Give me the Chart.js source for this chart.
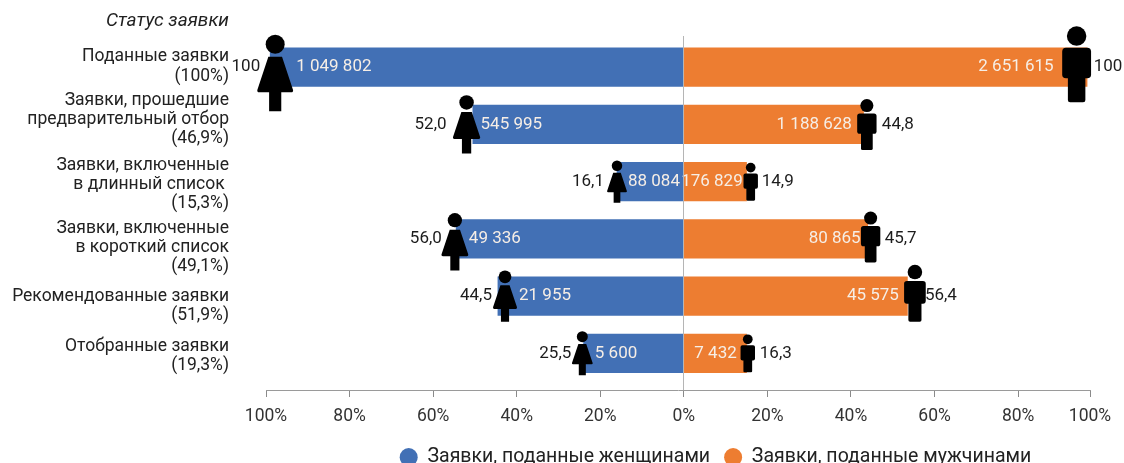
<!DOCTYPE html>
<html lang="ru">
<head>
<meta charset="utf-8">
<title>Статус заявки</title>
<script src="https://cdn.jsdelivr.net/npm/chart.js@4"></script>
<style>
    html, body { margin: 0; padding: 0; background: #fff; }
    #wrap { width: 1124px; height: 463px; }
</style>
</head>
<body>
<div id="wrap"><canvas id="grafico"></canvas></div>
<script>
const categories = [
    ["Поданные заявки", "(100%)"],
    ["Заявки, прошедшие", "предварительный отбор", "(46,9%)"],
    ["Заявки, включенные", "в длинный список ", "(15,3%)"],
    ["Заявки, включенные", "в короткий список", "(49,1%)"],
    ["Рекомендованные заявки", "(51,9%)"],
    ["Отобранные заявки", "(19,3%)"],
];
// bar lengths
const barsWomen = [99, 50.5, 16, 54.5, 44.5, 24];
const barsMen = [96.5, 43, 15, 44, 53.5, 15];
// printed numbers
const countsWomen = ["1 049 802", "545 995", "88 084", "49 336", "21 955", "5 600"];
const countsMen = ["2 651 615", "1 188 628", "176 829", "80 865", "45 575", "7 432"];
const pctWomen = ["100", "52,0", "16,1", "56,0", "44,5", "25,5"];
const pctMen = ["100", "44,8", "14,9", "45,7", "56,4", "16,3"];
// where the little figures stand on the axis
const figureWomen = [97.8, 52, 16, 54.8, 42.8, 24.3];
const figureMen = [94, 43.8, 16, 44.7, 55.3, 15.3];
const xTickValues = [-100, -80, -60, -40, -20, 0, 20, 40, 60, 80, 97.2];
const xTickLabels = ["100%", "80%", "60%", "40%", "20%", "0%", "20%", "40%", "60%", "80%", "100%"];
const legendLabels = ["Заявки, поданные женщинами", "Заявки, поданные мужчинами"];

const BLUE = "#4270b5";
const ORANGE = "#ed7d31";
const FONT = "Roboto";

// figure drawing settings per row
const heightWomen = [76, 58, 42, 57, 51, 44];
const heightMen = [76, 51, 38, 51, 57, 38];
const shiftWomen = [6, 0, 0, 3, 0, 0];
const shiftMen = [-3, 0, 0, -2, -3, 0];
const countGapWomen = [21, 14, 11, 14, 14, 12.5];
const countGapMen = [23, 15, 8, 10, 16, 11];
const pctGapWomen = [15, 20, 13, 13, 13, 11];
const pctGapMen = [17, 15, 11, 14, 10, 12];
const labelRows = [-0.01, 0.92, 2.05, 3.15, 4.17, 5.05];

function mulher(ctx, x, top, h) {
    ctx.beginPath();
    ctx.arc(x, top + 0.12 * h, 0.125 * h, 0, Math.PI * 2);
    ctx.fill();
    ctx.beginPath();
    ctx.moveTo(x - 0.09 * h, top + 0.285 * h);
    ctx.lineTo(x + 0.09 * h, top + 0.285 * h);
    ctx.lineTo(x + 0.235 * h, top + 0.72 * h);
    ctx.quadraticCurveTo(x + 0.24 * h, top + 0.75 * h, x + 0.21 * h, top + 0.75 * h);
    ctx.lineTo(x + 0.08 * h, top + 0.75 * h);
    ctx.lineTo(x + 0.08 * h, top + h);
    ctx.lineTo(x - 0.08 * h, top + h);
    ctx.lineTo(x - 0.08 * h, top + 0.75 * h);
    ctx.lineTo(x - 0.21 * h, top + 0.75 * h);
    ctx.quadraticCurveTo(x - 0.24 * h, top + 0.75 * h, x - 0.235 * h, top + 0.72 * h);
    ctx.closePath();
    ctx.fill();
}

function homem(ctx, x, top, h) {
    ctx.beginPath();
    ctx.arc(x, top + 0.13 * h, 0.128 * h, 0, Math.PI * 2);
    ctx.fill();
    ctx.beginPath();
    ctx.roundRect(x - 0.19 * h, top + 0.285 * h, 0.38 * h, 0.4 * h, 0.05 * h);
    ctx.fill();
    ctx.beginPath();
    ctx.roundRect(x - 0.115 * h, top + 0.5 * h, 0.23 * h, 0.5 * h, 0.03 * h);
    ctx.fill();
}

const figuras = {
    id: "figuras",
    afterLayout(chart) {
        // legend sits off-centre and low in the original
        const leg = chart.legend;
        const h = leg.bottom - leg.top;
        leg.left += 170.5;
        leg.right += 170.5;
        leg.top = 433.5;
        leg.bottom = 433.5 + h;
        // tick labels get clipped to the scale box
        chart.scales.x.bottom = 431;
    },
    afterDatasetsDraw(chart) {
        const ctx = chart.ctx;
        const xs = chart.scales.x;
        const ys = chart.scales.y;

        ctx.save();
        ctx.textBaseline = "middle";

        categories.forEach((_, i) => {
            const cy = ys.getPixelForValue(i);
            const xw = xs.getPixelForValue(-figureWomen[i]);
            const xm = xs.getPixelForValue(figureMen[i]);

            ctx.font = "17px " + FONT;
            ctx.fillStyle = "#f6eee6";
            ctx.textAlign = "left";
            ctx.fillText(countsWomen[i], xw + countGapWomen[i], cy);
            ctx.textAlign = "right";
            ctx.fillText(countsMen[i], xm - countGapMen[i], cy);

            ctx.fillStyle = "#000";
            mulher(ctx, xw, cy + shiftWomen[i] - heightWomen[i] / 2, heightWomen[i]);
            homem(ctx, xm, cy + shiftMen[i] - heightMen[i] / 2, heightMen[i]);

            ctx.fillStyle = "#1c1c1c";
            ctx.textAlign = "right";
            ctx.fillText(pctWomen[i], xw - pctGapWomen[i], cy);
            ctx.textAlign = "left";
            ctx.fillText(pctMen[i], xm + pctGapMen[i], cy);
        });

        ctx.fillStyle = "#222";
        ctx.textAlign = "right";
        ctx.font = "italic 19px " + FONT;
        ctx.fillText("Статус заявки", 229, 21);
        ctx.restore();
    },
};

new Chart(document.getElementById("grafico"), {
    type: "bar",
    data: {
        datasets: [
            {
                label: legendLabels[0],
                data: barsWomen.map((v, i) => ({ x: -v, y: i })),
                backgroundColor: BLUE,
                pointStyle: "circle",
                grouped: false,
                barThickness: 38.5,
            },
            {
                label: legendLabels[1],
                data: barsMen.map((v, i) => ({ x: v, y: i })),
                backgroundColor: ORANGE,
                pointStyle: "circle",
                grouped: false,
                barThickness: 38.5,
            },
        ],
    },
    options: {
        indexAxis: "y",
        responsive: true,
        maintainAspectRatio: false,
        animation: false,
        layout: { padding: { top: 36, right: 34, bottom: 0 } },
        scales: {
            x: {
                type: "linear",
                min: -100,
                max: 97.2,
                afterBuildTicks(s) {
                    s.ticks = xTickValues.map((v) => ({ value: v }));
                },
                afterFit(s) {
                    s.height = 73 - s.chart.legend.height;
                },
                border: { display: true, color: "#9a9a9a", width: 1, z: 2 },
                grid: {
                    z: 1,
                    color: (c) => (c.tick && c.tick.value === 0 ? "#b5b5b5" : "transparent"),
                    tickColor: "#8a8a8a",
                    tickLength: 7,
                },
                ticks: {
                    autoSkip: false,
                    maxRotation: 0,
                    padding: 9,
                    color: "#333",
                    font: { family: FONT, size: 17.5 },
                    callback: (v, i) => xTickLabels[i],
                },
            },
            y: {
                type: "linear",
                reverse: true,
                offset: false,
                min: -0.545,
                max: 5.64,
                afterBuildTicks(s) {
                    s.ticks = labelRows.map((v) => ({ value: v }));
                },
                afterFit(s) {
                    s.width = 266;
                    s.paddingTop = 0;
                    s.paddingBottom = 0;
                },
                border: { display: false },
                grid: { display: false, drawTicks: false, offset: false },
                ticks: {
                    autoSkip: false,
                    padding: 37,
                    color: "#222",
                    font: { family: FONT, size: 17.5, lineHeight: 1.09 },
                    callback: (v, i) => categories[i],
                },
            },
        },
        plugins: {
            tooltip: { enabled: false },
            legend: {
                position: "bottom",
                labels: {
                    usePointStyle: true,
                    boxHeight: 13,
                    pointStyleWidth: 18,
                    padding: 14,
                    color: "#222",
                    font: { family: FONT, size: 19.5 },
                },
            },
        },
    },
    plugins: [figuras],
});
</script>
</body>
</html>
